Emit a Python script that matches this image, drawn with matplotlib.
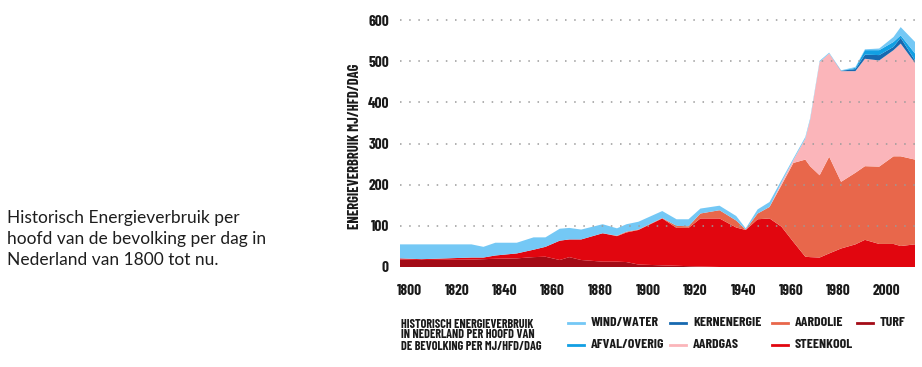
import matplotlib
matplotlib.use('Agg')
import matplotlib.pyplot as plt
from matplotlib.lines import Line2D

# jaren en bijdrage per bron (MJ/hfd/dag)
jaren = [1796, 1805, 1826, 1831, 1836, 1845, 1852, 1857, 1863, 1867, 1872, 1881,
         1887, 1891, 1896, 1906, 1912, 1917, 1922, 1930, 1937, 1941, 1946, 1951,
         1956, 1961, 1966, 1968, 1972, 1976, 1981, 1987, 1991, 1997, 2003, 2006, 2012]
turf = [18, 17, 18, 19, 20, 21, 24, 25, 17, 24, 17, 13,
        13, 12, 6, 4, 3, 2, 1, 0, 0, 0, 0, 0,
        0, 0, 0, 0, 0, 0, 0, 0, 0, 0, 0, 0, 0]
steenkool = [3, 2, 5, 4, 8, 12, 18, 24, 47, 43, 50, 69,
             62, 72, 84, 114, 92, 93, 117, 118, 96, 90, 116, 118,
             98, 61, 25, 24, 23, 33, 45, 55, 66, 56, 56, 51, 55]
aardolie = [0, 0, 0, 0, 0, 0, 0, 0, 0, 0, 0, 0,
            1, 2, 1, 1, 5, 4, 12, 20, 17, 1, 14, 28,
            101, 192, 236, 221, 200, 235, 162, 174, 179, 188, 213, 218, 206]
aardgas = [0, 0, 0, 0, 0, 0, 0, 0, 0, 0, 0, 0,
           0, 0, 0, 0, 0, 0, 0, 0, 0, 0, 0, 0,
           6, 7, 51, 112, 275, 251, 269, 247, 261, 258, 258, 274, 235]
kernenergie = [0, 0, 0, 0, 0, 0, 0, 0, 0, 0, 0, 0,
               0, 0, 0, 0, 0, 0, 0, 0, 0, 0, 0, 0,
               0, 0, 0, 0, 0, 0, 1, 5, 10, 13, 8, 14, 6]
afval = [0, 0, 0, 0, 0, 0, 0, 0, 0, 0, 0, 0,
         0, 0, 0, 0, 0, 0, 0, 0, 0, 0, 0, 0,
         0, 0, 0, 0, 0, 0, 0, 3, 11, 12, 12, 6, 17]
wind_water = [34, 36, 32, 26, 31, 26, 30, 23, 29, 28, 24, 22,
              18, 18, 19, 17, 16, 17, 12, 11, 11, 3, 10, 12,
              6, 4, 4, 4, 3, 2, 1, 2, 2, 4, 12, 20, 28]

kleuren = {
    'WIND/WATER': '#74c8f5',
    'AFVAL/OVERIG': '#129fe3',
    'KERNENERGIE': '#1769b0',
    'AARDGAS': '#fbb5ba',
    'AARDOLIE': '#e8674b',
    'STEENKOOL': '#e1060f',
    'TURF': '#a30b16',
}

# smalle letter zoals in het origineel; eerste die er is wordt gebruikt
smal = ['Barlow Condensed', 'Roboto Condensed', 'Oswald', 'Archivo Narrow',
        'Liberation Sans Narrow', 'DejaVu Sans']
gewicht = 'bold'

fig = plt.figure(figsize=(9.22, 3.67), dpi=100)
ax = fig.add_axes([400 / 922, 100 / 367, 515 / 922, 251 / 367])

lagen = [turf, steenkool, aardolie, aardgas, kernenergie, afval, wind_water]
namen = ['TURF', 'STEENKOOL', 'AARDOLIE', 'AARDGAS', 'KERNENERGIE', 'AFVAL/OVERIG', 'WIND/WATER']
ax.stackplot(jaren, lagen, colors=[kleuren[n] for n in namen], linewidth=0, zorder=1)

ax.set_xlim(1796, 2012)
ax.set_ylim(0, 610)
ax.set_xticks(range(1800, 2001, 20))
ax.set_yticks(range(0, 601, 100))
ax.tick_params(length=0, labelsize=11, colors='#1a1a1a')
ax.tick_params(axis='x', pad=12)
ax.tick_params(axis='y', pad=8)
for lab in ax.get_xticklabels() + ax.get_yticklabels():
    lab.set_family(smal)
    lab.set_fontweight(gewicht)

for y in range(100, 601, 100):
    ax.axhline(y, color='#9a9a9a', lw=1.1, ls=(0, (1, 5)), zorder=3)

for s in ax.spines.values():
    s.set_visible(False)

ax.set_ylabel('ENERGIEVERBRUIK MJ/HFD/DAG', family=smal, fontweight=gewicht,
              fontsize=10.5, color='#1a1a1a', va='center')
ax.yaxis.set_label_coords(-0.087, 0.48)

# tekst links
fig.text(7 / 922, 1 - 239 / 367,
         'Historisch Energieverbruik per\nhoofd van de bevolking per dag in\nNederland van 1800 tot nu.',
         family='Lato', fontsize=12.5, color='#1e1e1e', va='center', ha='left', linespacing=1.42)

# legenda onderaan
fig.text(401 / 922, 1 - 335 / 367,
         'HISTORISCH ENERGIEVERBRUIK\nIN NEDERLAND PER HOOFD VAN\nDE BEVOLKING PER MJ/HFD/DAG',
         family=smal, fontweight=gewicht, fontsize=8.8, color='#1a1a1a',
         va='center', ha='left', linespacing=1.0)

items = [
    ('WIND/WATER', 568, 323), ('AFVAL/OVERIG', 568, 345),
    ('KERNENERGIE', 670, 323), ('AARDGAS', 670, 345),
    ('AARDOLIE', 772, 323), ('STEENKOOL', 772, 345),
    ('TURF', 857, 323),
]
for naam, x0, y0 in items:
    fy = 1 - y0 / 367
    fig.add_artist(Line2D([x0 / 922, (x0 + 16) / 922], [fy, fy],
                          color=kleuren[naam], lw=2, transform=fig.transFigure))
    fig.text((x0 + 23) / 922, fy, naam, family=smal, fontweight=gewicht,
             fontsize=10, color='#1a1a1a', va='center', ha='left')

fig.savefig('out.png', dpi=100)
